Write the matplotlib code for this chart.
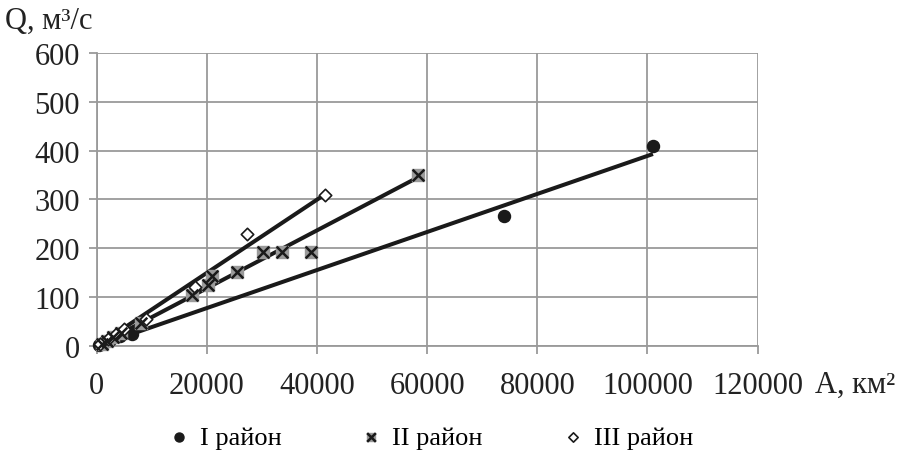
import matplotlib
matplotlib.use('Agg')
import numpy as np
import matplotlib.pyplot as plt

# points
area_1 = [101000, 73900, 6500, 4200, 2500, 1200, 500]
flow_1 = [410, 267, 25, 20, 12, 6, 3]
area_2 = [58300, 39000, 33600, 30200, 25500, 20900, 20200, 17400, 8000, 4500, 3000, 1800, 900]
flow_2 = [351, 193, 192, 192, 152, 144, 125, 104, 48, 27, 18, 10, 5]
area_3 = [41400, 27300, 17800, 9000, 5000, 3500, 2000, 600]
flow_3 = [310, 229, 120, 55, 35, 25, 14, 4]

# trend lines (end of each line on the chart)
trend_end_x = [101000, 58300, 41400]
trend_end_y = [393, 345, 310]

plt.rcParams['font.family'] = ['Liberation Serif', 'DejaVu Serif']

fig = plt.figure(figsize=(9.03, 4.52), dpi=100)
ax = fig.add_axes([0.107, 0.232, 0.732, 0.649])

grid_col = '#9a9a9a'
ax.set_xlim(0, 120000)
ax.set_ylim(0, 600)
ax.set_xticks(np.arange(0, 120001, 20000))
ax.set_yticks(np.arange(0, 601, 100))
ax.grid(True, color=grid_col, linewidth=1.3)
ax.set_axisbelow(True)
for s in ['top', 'right']:
    ax.spines[s].set_visible(False)
for s in ['left', 'bottom']:
    ax.spines[s].set_color(grid_col)
    ax.spines[s].set_linewidth(1.3)
ax.tick_params(colors=grid_col, labelcolor='#222222', labelsize=22, length=6, width=1.3)
ax.tick_params(axis='x', pad=12)
ax.tick_params(axis='y', pad=6)

for xe, ye in zip(trend_end_x, trend_end_y):
    ax.plot([0, xe], [0, ye], color='#1a1a1a', linewidth=2.9, zorder=3, solid_capstyle='butt')

h1 = ax.scatter(area_1, flow_1, s=75, color='#1a1a1a', zorder=4, clip_on=False)
sq = ax.scatter(area_2, flow_2, s=70, marker='s', color='#9a9a9a', zorder=4, clip_on=False)
xx = ax.scatter(area_2, flow_2, s=70, marker='x', color='#1a1a1a', linewidths=1.8, zorder=5, clip_on=False)
h3 = ax.scatter(area_3, flow_3, s=40, marker='D', facecolor='white', edgecolor='#1a1a1a',
                linewidths=1.2, zorder=4, clip_on=False)

fig.text(0.006, 0.952, 'Q, м³/с', fontsize=22, va='center', ha='left', color='#222222')
fig.text(0.903, 0.148, 'A, км²', fontsize=22, va='center', ha='left', color='#222222')

fig.legend([h1, (sq, xx), h3], ['I район', 'II район', 'III район'],
           loc='center', bbox_to_anchor=(0.468, 0.03), ncol=3, frameon=False,
           fontsize=19, handletextpad=-0.2, columnspacing=2.4, markerscale=0.75)

plt.savefig('out.png', dpi=100)
